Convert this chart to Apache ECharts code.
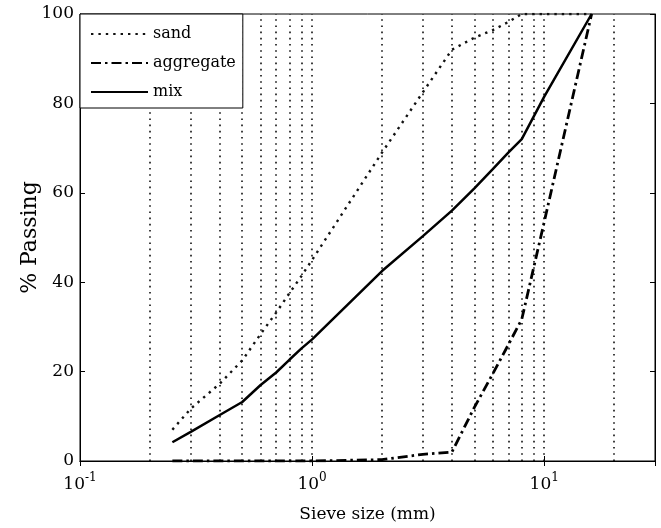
<!DOCTYPE html>
<html>
<head>
<meta charset="utf-8">
<script src="https://cdn.jsdelivr.net/npm/echarts@6/dist/echarts.min.js"></script>
<style>html,body{margin:0;padding:0;background:#fff;}#c{width:661px;height:528px;}</style>
</head>
<body>
<div id="c"></div>
<script>
// Sieve sizes (mm)
const sizes = [0.25, 0.3, 0.4, 0.5, 0.6, 0.7, 0.8, 0.9, 1, 2, 3, 4, 5, 6, 7, 8, 10, 16];
// % passing
const sand = [7, 11.7, 17.3, 22.5, 28.4, 33.2, 37.6, 41.4, 45, 69, 82.5, 92, 94.7, 96.4, 98.2, 100, 100, 100];
const aggregate = [0, 0, 0, 0, 0, 0, 0, 0, 0, 0.3, 1.5, 2, 12, 19.5, 26, 31.7, 53.5, 100];
const mix = [4.2, 6.5, 10.3, 13.2, 17, 19.8, 22.7, 25.2, 27.2, 42.5, 50.3, 56, 61, 65.3, 69, 72, 81.5, 100];
// vertical dotted grid positions
const gridX = [0.2, 0.3, 0.4, 0.5, 0.6, 0.7, 0.8, 0.9, 1, 2, 3, 4, 5, 6, 7, 8, 9, 10, 20];
const xRange = [0.1, 30];
const yTicks = [0, 20, 40, 60, 80, 100];

const FONT = 'DejaVu Serif';
const pair = (arr) => sizes.map((s, i) => [s, arr[i]]);

const chart = echarts.init(document.getElementById('c'), null, {renderer: 'canvas'});
const supFmt = function (v) {
  const l = Math.log10(v), e = Math.round(l);
  if (Math.abs(l - e) > 1e-6) return '';
  return '{b|10}{s|' + e + '}';
};
chart.setOption({
  animation: false,
  backgroundColor: '#fff',
  grid: {left: 80, right: 6, top: 14, bottom: 66, show: true, borderColor: '#000', borderWidth: 1, backgroundColor: 'transparent'},
  legend: {
    orient: 'vertical', left: 80, top: 14, itemWidth: 57, itemHeight: 14, itemGap: 13,
    padding: [12, 7, 8, 10], backgroundColor: '#fff', borderColor: '#000', borderWidth: 1, borderRadius: 0,
    textStyle: {fontFamily: FONT, fontSize: 16, color: '#000'},
    itemStyle: {opacity: 0},
    data: ['sand', 'aggregate', 'mix'], z: 20
  },
  xAxis: [{
    type: 'log', logBase: 10, min: xRange[0], max: xRange[1],
    name: 'Sieve size (mm)', nameLocation: 'middle', nameGap: 45, nameMoveOverlap: false,
    nameTextStyle: {fontFamily: FONT, fontSize: 17, color: '#000'},
    axisLine: {lineStyle: {color: '#000', width: 1}},
    axisTick: {inside: true, length: 5, lineStyle: {color: '#000'}},
    splitLine: {show: false},
    axisLabel: {
      formatter: supFmt, margin: 11, color: '#000',
      rich: {
        b: {fontFamily: FONT, fontSize: 17, color: '#000', lineHeight: 26, verticalAlign: 'middle'},
        s: {fontFamily: FONT, fontSize: 12, color: '#000', lineHeight: 12, verticalAlign: 'top'}
      }
    }
  }, {
    type: 'log', logBase: 10, min: xRange[0], max: xRange[1], position: 'top',
    axisLine: {lineStyle: {color: '#000'}},
    axisTick: {inside: true, length: 5, lineStyle: {color: '#000'}},
    axisLabel: {show: false}, splitLine: {show: false}
  }],
  yAxis: [{
    type: 'value', min: yTicks[0], max: yTicks[yTicks.length - 1], interval: 20,
    name: '% Passing', nameLocation: 'middle', nameGap: 39, nameRotate: 90, nameMoveOverlap: false,
    nameTextStyle: {fontFamily: FONT, fontSize: 22, color: '#000'},
    axisLine: {show: true, lineStyle: {color: '#000'}},
    axisTick: {show: true, inside: true, length: 5, lineStyle: {color: '#000'}},
    splitLine: {show: false},
    axisLabel: {fontFamily: FONT, fontSize: 17, color: '#000', margin: 6}
  }, {
    type: 'value', min: yTicks[0], max: yTicks[yTicks.length - 1], interval: 20, position: 'right',
    axisLine: {show: true, lineStyle: {color: '#000'}},
    axisTick: {show: true, inside: true, length: 5, lineStyle: {color: '#000'}},
    axisLabel: {show: false}, splitLine: {show: false}
  }],
  series: [{
    name: 'sand', type: 'line', data: pair(sand), symbol: 'none', z: 5,
    lineStyle: {color: '#111', width: 2.4, type: [2.4, 5]},
    markLine: {
      silent: true, symbol: 'none', label: {show: false}, z: 1,
      lineStyle: {color: '#000', width: 1.5, type: [1.6, 4.6]},
      data: gridX.map(v => ({xAxis: v}))
    }
  }, {
    name: 'aggregate', type: 'line', data: pair(aggregate), symbol: 'none', z: 6,
    lineStyle: {color: '#000', width: 2.8, type: [10, 4, 2.5, 4]}
  }, {
    name: 'mix', type: 'line', data: pair(mix), symbol: 'none', z: 7,
    lineStyle: {color: '#000', width: 2.5, type: 'solid'}
  }]
});
</script>
</body>
</html>
